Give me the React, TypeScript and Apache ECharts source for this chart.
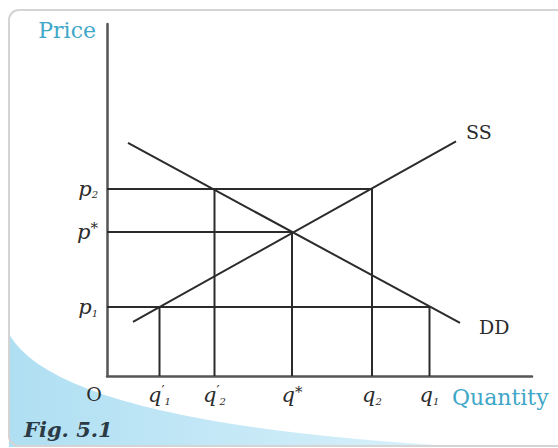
import React, { useEffect, useRef } from "react";
import * as echarts from "echarts";

// Equilibrium diagram: demand (DD) and supply (SS) with price floors/ceilings.
// Quantity ticks: q'1, q'2, q*, q2, q1
const quantityTicks = [2.1, 4.3, 7.4, 10.6, 12.9];
const quantityLabels = [
  "{i|q}{pr|′}{sub|1}",
  "{i|q}{pr|′}{sub|2}",
  "{i|q}{st|*}",
  "{i|q}{sub|2}",
  "{i|q}{sub|1}",
];
// Price ticks: p1, p*, p2
const priceTicks = [2.74, 5.73, 7.44];
const priceLabels = ["{i|p}{sub|1}", "{i|p}{st|*}", "{i|p}{sub|2}"];

// Curves (straight lines), endpoints in quantity/price units
const demandLine = [
  [0.84, 9.27],
  [14.12, 2.11],
];
const supplyLine = [
  [1.04, 2.15],
  [13.96, 9.33],
];

// Guide segments: [quantity index, price index]
const priceGuides = [
  [4, 0], // p1 -> q1
  [2, 1], // p* -> q*
  [3, 2], // p2 -> q2
];
const quantityGuides = [
  [0, 0], // q'1 up to p1
  [1, 2], // q'2 up to p2
  [2, 1], // q* up to p*
  [3, 2], // q2 up to p2
  [4, 0], // q1 up to p1
];

const SERIF = "DejaVu Serif";
const INK = "#2b2b2b";
const TEAL = "#3fa7c7";

echarts.graphic.registerShape(
  "swoosh",
  echarts.graphic.extendPath("M9 334 Q60 425 470 447 L9 447 Z", {})
);

const richLabel = {
  i: { fontFamily: SERIF, fontStyle: "italic", fontSize: 21, lineHeight: 22, color: INK },
  sub: { fontFamily: SERIF, fontStyle: "italic", fontSize: 10, lineHeight: 11, verticalAlign: "bottom", color: INK },
  st: { fontFamily: SERIF, fontSize: 15, lineHeight: 16, verticalAlign: "top", color: INK },
  pr: { fontFamily: SERIF, fontSize: 14, lineHeight: 15, verticalAlign: "top", color: INK },
  o: { fontFamily: SERIF, fontSize: 19, color: INK, padding: [0, 26, 0, 0] },
};

export default function App() {
  const ref = useRef<HTMLDivElement>(null);

  useEffect(() => {
    if (!ref.current) return;
    const chart = echarts.init(ref.current, null, { renderer: "svg" });

    const lineStyle = { color: INK, width: 2 };
    const segment = (data: number[][], extra: any = {}) => ({
      type: "line",
      data,
      symbol: "none",
      silent: true,
      lineStyle,
      z: 3,
      ...extra,
    });

    const series: any[] = [];
    priceGuides.forEach(([qi, pi]) => {
      series.push(segment([[0, priceTicks[pi]], [quantityTicks[qi], priceTicks[pi]]]));
    });
    quantityGuides.forEach(([qi, pi]) => {
      series.push(segment([[quantityTicks[qi], 0], [quantityTicks[qi], priceTicks[pi]]]));
    });
    series.push(
      segment(demandLine, {
        endLabel: {
          show: true,
          formatter: "DD",
          offset: [11, 4],
          fontFamily: SERIF,
          fontSize: 19,
          color: INK,
        },
      })
    );
    series.push(
      segment(supplyLine, {
        endLabel: {
          show: true,
          formatter: "SS",
          offset: [2, -9],
          fontFamily: SERIF,
          fontSize: 19,
          color: INK,
        },
      })
    );

    const qLookup = (v: number) => {
      if (v === 0) return "{o|O}";
      const k = quantityTicks.indexOf(v);
      return k >= 0 ? quantityLabels[k] : "";
    };
    const pLookup = (v: number) => {
      const k = priceTicks.indexOf(v);
      return k >= 0 ? priceLabels[k] : "";
    };

    chart.setOption({
      animation: false,
      backgroundColor: "#ffffff",
      title: {
        text: "Fig. 5.1",
        left: 24,
        top: 419,
        padding: 0,
        textStyle: {
          fontFamily: SERIF,
          fontStyle: "italic",
          fontWeight: "bold",
          fontSize: 21,
          color: "#2b3a44",
        },
      },
      graphic: [
        {
          type: "rect",
          z: -20,
          silent: true,
          shape: { x: 9, y: 10, width: 620, height: 436, r: 10 },
          style: { fill: "#ffffff", stroke: "none" },
        },
        {
          type: "swoosh",
          z: -15,
          silent: true,
          style: {
            fill: {
              type: "linear",
              x: 0,
              y: 0,
              x2: 1,
              y2: 0,
              colorStops: [
                { offset: 0, color: "#afdff2" },
                { offset: 1, color: "#dcf2fb" },
              ],
            },
          },
        },
        {
          type: "rect",
          z: -10,
          silent: true,
          shape: { x: 9, y: 10, width: 620, height: 436, r: 10 },
          style: { fill: "none", stroke: "#d4d4d4", lineWidth: 2 },
        },
      ],
      grid: { left: 107, right: 26, top: 24, bottom: 72, containLabel: false },
      xAxis: {
        type: "value",
        min: 0,
        max: 17,
        name: "Quantity",
        nameLocation: "end",
        nameGap: -80,
        nameTextStyle: {
          fontFamily: SERIF,
          fontSize: 22,
          color: TEAL,
          align: "left",
          verticalAlign: "top",
          lineHeight: 42,
        },
        axisLine: { show: true, lineStyle: { color: "#555555", width: 2.5 } },
        axisTick: { show: false },
        splitLine: { show: false },
        axisLabel: {
          customValues: [0, ...quantityTicks],
          margin: 8,
          formatter: (v: number) => qLookup(v),
          rich: richLabel,
        },
      },
      yAxis: {
        type: "value",
        min: 0,
        max: 14,
        name: "Price",
        nameLocation: "end",
        nameGap: -6,
        nameTextStyle: {
          fontFamily: SERIF,
          fontSize: 22,
          color: TEAL,
          align: "right",
          verticalAlign: "middle",
          padding: [0, 11, 0, 0],
        },
        axisLine: { show: true, lineStyle: { color: "#555555", width: 2.5 } },
        axisTick: { show: false },
        splitLine: { show: false },
        axisLabel: {
          customValues: priceTicks,
          margin: 9,
          formatter: (v: number) => pLookup(v),
          rich: richLabel,
        },
      },
      series,
    });

    return () => chart.dispose();
  }, []);

  return (
    <div
      ref={ref}
      style={{ position: "absolute", left: 0, top: 0, width: 558, height: 448 }}
    />
  );
}
